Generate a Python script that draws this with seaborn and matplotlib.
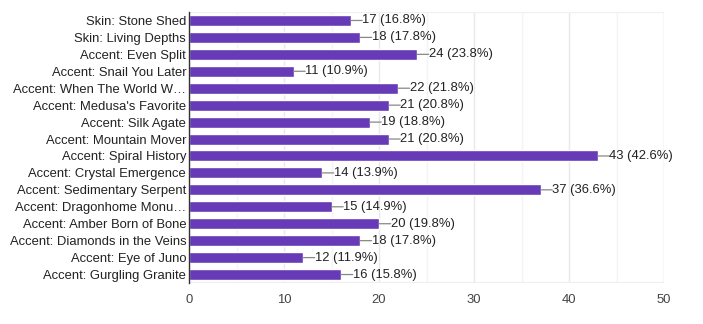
import matplotlib
matplotlib.use("Agg")
import matplotlib.pyplot as plt
import seaborn as sns
import pandas as pd

categories = [
    "Skin: Stone Shed",
    "Skin: Living Depths",
    "Accent: Even Split",
    "Accent: Snail You Later",
    "Accent: When The World W\u2026",
    "Accent: Medusa's Favorite",
    "Accent: Silk Agate",
    "Accent: Mountain Mover",
    "Accent: Spiral History",
    "Accent: Crystal Emergence",
    "Accent: Sedimentary Serpent",
    "Accent: Dragonhome Monu\u2026",
    "Accent: Amber Born of Bone",
    "Accent: Diamonds in the Veins",
    "Accent: Eye of Juno",
    "Accent: Gurgling Granite",
]
counts = [17, 18, 24, 11, 22, 21, 19, 21, 43, 14, 37, 15, 20, 18, 12, 16]
percents = [16.8, 17.8, 23.8, 10.9, 21.8, 20.8, 18.8, 20.8, 42.6, 13.9, 36.6, 14.9, 19.8, 17.8, 11.9, 15.8]
x_ticks = [0, 10, 20, 30, 40, 50]

df = pd.DataFrame({"option": categories, "count": counts, "pct": percents})

sns.set_theme(style="white")
plt.rcParams["font.family"] = ["Liberation Sans", "DejaVu Sans"]

fig = plt.figure(figsize=(7.03, 3.24), dpi=100)
ax = fig.add_axes([189 / 703, 1 - 283 / 324, (664 - 189) / 703, (283 - 12) / 324])

sns.barplot(data=df, x="count", y="option", color="#673AB7", saturation=1,
            width=0.65, orient="h", ax=ax, zorder=3)

ax.set_xlim(0, 50)
ax.set_ylim(len(categories) - 0.5, -0.5)
ax.set_xticks(x_ticks)
ax.set_xticks(range(5, 50, 10), minor=True)
ax.grid(axis="x", which="major", color="#e8e8e8", linewidth=1, zorder=0)
ax.grid(axis="x", which="minor", color="#f4f4f4", linewidth=1, zorder=0)
ax.axhline(len(categories) - 0.5, color="#eeeeee", linewidth=1.5, zorder=1)
ax.axhline(-0.5, color="#f0f0f0", linewidth=1, zorder=1)
ax.axvline(50, color="#eeeeee", linewidth=1, zorder=1)

for s in ["top", "right", "bottom"]:
    ax.spines[s].set_visible(False)
ax.spines["left"].set_color("#333333")
ax.spines["left"].set_linewidth(1)
ax.spines["left"].set_zorder(4)

ax.set_xlabel("")
ax.set_ylabel("")
ax.tick_params(axis="y", length=0, pad=2, labelsize=9.4, labelcolor="#222222")
ax.tick_params(axis="x", which="both", length=0, pad=8, labelsize=9.4, labelcolor="#444444")

# value labels joined to the bar ends by a short leader line
for i, (c, p) in enumerate(zip(counts, percents)):
    ax.annotate(f"{c} ({p}%)", xy=(c, i), xytext=(8.4, 0), textcoords="offset points",
                va="center", ha="left", fontsize=9.4, color="#222222",
                arrowprops=dict(arrowstyle="-", color="#888888", lw=0.9,
                                shrinkA=0, shrinkB=0, patchA=None, relpos=(0, 0.5)),
                zorder=5)

fig.savefig("out.png", dpi=100)
